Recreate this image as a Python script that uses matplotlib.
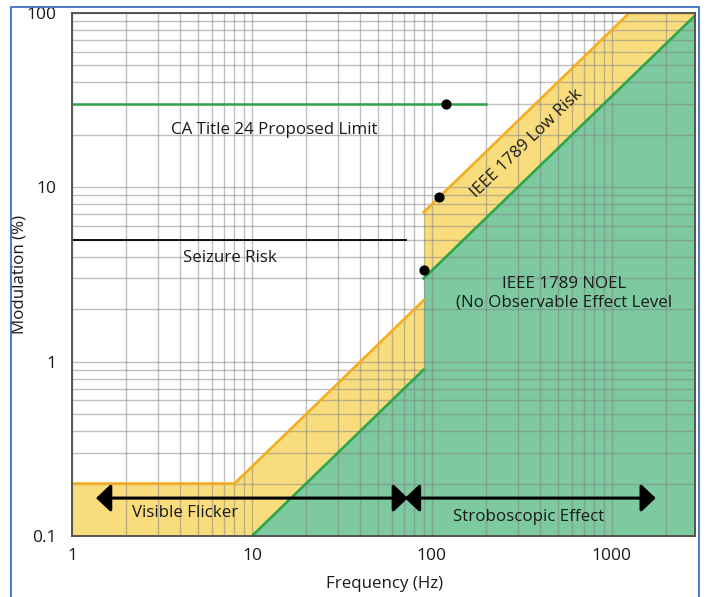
import matplotlib.pyplot as plt
from matplotlib.patches import Rectangle
import numpy as np

plt.rcParams['font.family'] = ['Open Sans', 'DejaVu Sans']

# IEEE 1789 low risk boundary (below and above the 90 Hz step)
low_f = [1, 8, 90]
low_m = [0.2, 0.2, 2.25]
low_hi_f = [90, 1250, 2900]
low_hi_m = [7.2, 100, 100]

# IEEE 1789 NOEL boundary
noel_f = [10, 90]
noel_m = [0.1, 0.9]
noel_hi_f = [90, 2900]
noel_hi_m = [3.0, 96.7]

# horizontal limits
ca_f = [1, 200]
ca_m = [30, 30]
seizure_f = [1, 72]
seizure_m = [5, 5]

# marked points
dot_f = [120, 110, 90]
dot_m = [30, 8.8, 3.35]

# frequency bands (arrows)
flicker_band = [1.36, 73.6]
strobe_band = [70.8, 1755]
band_m = 0.165

yellow = '#F9DD7D'
orange = '#F4AD1E'
green_fill = '#7DC9A0'
green = '#2DA64B'
ink = '#1a1a1a'

fig = plt.figure(figsize=(7.07, 5.97), dpi=100)
ax = fig.add_axes([72 / 707, 61 / 597, (695 - 72) / 707, (536 - 13) / 597])
ax.set_xscale('log')
ax.set_yscale('log')
ax.set_xlim(1, 2900)
ax.set_ylim(0.1, 100)

# fills
ax.fill_between(low_f + low_hi_f, low_m + low_hi_m, 0.1, color=yellow, lw=0, zorder=1)
ax.fill_between(noel_f + noel_hi_f, noel_m + noel_hi_m, 0.1, color=green_fill, lw=0, zorder=1.1)

# boundary lines
ax.plot(low_f, low_m, color=orange, lw=1.9, zorder=3)
ax.plot(low_hi_f, low_hi_m, color=orange, lw=1.9, zorder=3)
ax.plot(noel_f, noel_m, color=green, lw=1.9, zorder=3)
ax.plot(noel_hi_f, noel_hi_m, color=green, lw=1.9, zorder=3)

ax.plot(ca_f, ca_m, color=green, lw=1.8, zorder=3)
ax.plot(seizure_f, seizure_m, color='black', lw=1.3, zorder=3)
ax.scatter(dot_f, dot_m, s=40, color='black', zorder=4)

# grid
ax.grid(which='both', color='gray', alpha=0.5, lw=1.0)
ax.set_axisbelow('line')

# band arrows
for band in (flicker_band, strobe_band):
    ax.annotate('', xy=(band[1], band_m), xytext=(band[0], band_m),
                arrowprops=dict(arrowstyle='<|-|>,head_length=0.9,head_width=0.85',
                                mutation_scale=10, lw=2.2, color='black',
                                shrinkA=0, shrinkB=0), zorder=5)

# labels
fs = 12.2
ax.text(13.3, 21.3, 'CA Title 24 Proposed Limit', fontsize=fs, color=ink, ha='center', va='center', zorder=5)
ax.text(7.55, 3.93, 'Seizure Risk', fontsize=fs, color=ink, ha='center', va='center', zorder=5)
ax.text(541, 2.48, 'IEEE 1789 NOEL\n(No Observable Effect Level', fontsize=fs, color=ink,
        ha='center', va='center', linespacing=1.2, zorder=5)
ax.text(335, 17.9, 'IEEE 1789 Low Risk', fontsize=fs, color=ink, ha='center', va='center',
        rotation=44, rotation_mode='anchor', zorder=5)
ax.text(4.24, 0.1355, 'Visible Flicker', fontsize=fs, color=ink, ha='center', va='center', zorder=5)
ax.text(346, 0.1285, 'Stroboscopic Effect', fontsize=fs, color=ink, ha='center', va='center', zorder=5)

# axes styling
ax.set_xticks([1, 10, 100, 1000])
ax.set_xticklabels(['1', '10', '100', '1000'])
ax.set_yticks([0.1, 1, 10, 100])
ax.set_yticklabels(['0.1', '1', '10', '100'])
ax.tick_params(which='both', length=0, labelsize=12.5, labelcolor=ink)
ax.tick_params(axis='x', pad=9)
ax.tick_params(axis='y', pad=11)
for s in ax.spines.values():
    s.set_color('#555555')
    s.set_linewidth(1.4)
    s.set_zorder(6)

ax.set_xlabel('Frequency (Hz)', fontsize=fs, color=ink, va='center')
ax.set_ylabel('Modulation (%)', fontsize=fs, color=ink, va='center')
ax.xaxis.set_label_coords((385 - 72) / 623, (536 - 584) / 523)
ax.yaxis.set_label_coords((20 - 72) / 623, (536 - 274) / 523)

# blue frame around the figure
fig.patches.append(Rectangle((11 / 707, -0.05), (699 - 11) / 707, (590 / 597) + 0.05,
                             transform=fig.transFigure, fill=False,
                             edgecolor='#3D6FC6', lw=1.3, figure=fig))

fig.savefig('out.png', dpi=100)
